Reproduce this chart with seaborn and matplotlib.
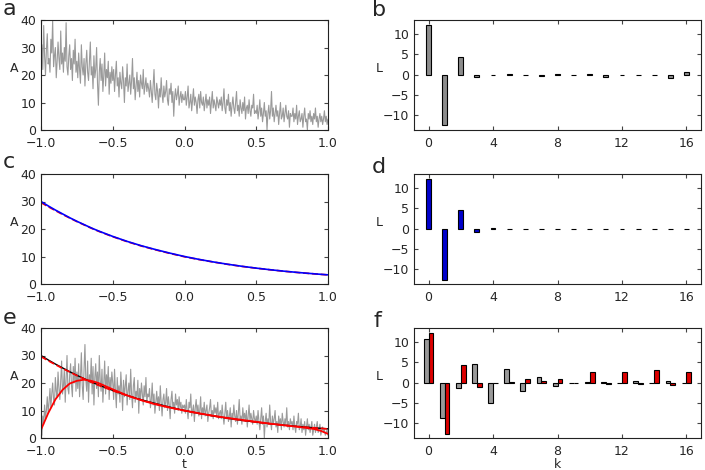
import numpy as np
import pandas as pd
import matplotlib
matplotlib.use("Agg")
import matplotlib.pyplot as plt
import seaborn as sns

# panel a: noisy decaying trace (t from -1 to 1, evenly spaced)
a_noisy = [
    25, 31, 22, 38, 27, 20, 29, 35, 24, 26, 21, 33, 28, 40, 23, 27, 30, 19, 25, 32,
    26, 22, 36, 24, 28, 21, 30, 25, 39, 23, 20, 27, 31, 22, 26, 18, 29, 24, 33, 21,
    25, 19, 28, 22, 17, 31, 23, 20, 26, 16, 24, 29, 21, 18, 25, 32, 20, 23, 15, 27,
    19, 22, 30, 17, 9, 21, 26, 18, 24, 14, 20, 28, 16, 22, 19, 25, 13, 21, 17, 23,
    18, 22, 14, 20, 25, 16, 19, 12, 21, 17, 15, 23, 18, 10, 19, 16, 24, 14, 17, 20,
    13, 18, 26, 15, 19, 11, 16, 21, 14, 18, 12, 20, 17, 15, 22, 13, 16, 19, 14, 17,
    15, 12, 18, 14, 10, 16, 22, 13, 11, 17, 14, 8, 15, 12, 19, 13, 10, 16, 12, 14,
    18, 11, 9, 15, 13, 17, 10, 14, 5, 12, 15, 11, 13, 16, 9, 12, 14, 10, 13, 11,
    11, 14, 9, 12, 16, 8, 10, 13, 7, 11, 15, 9, 12, 10, 6, 11, 13, 8, 14, 10,
    9, 12, 7, 10, 13, 8, 11, 9, 12, 6, 10, 14, 8, 11, 9, 7, 12, 10, 8, 11,
    9, 12, 7, 10, 15, 8, 6, 11, 9, 13, 7, 10, 5, 9, 12, 8, 6, 10, 14, 7,
    9, 5, 11, 8, 6, 10, 7, 12, 4, 8, 9, 6, 11, 7, 5, 9, 8, 13, 6, 7,
    6, 9, 4, 7, 11, 5, 8, 3, 6, 10, 5, 7, 0, 6, 9, 4, 7, 14, 5, 8,
    3, 6, 9, 5, 7, 2, 6, 10, 4, 5, 8, 3, 6, 9, 5, 4, 7, 1, 6, 5,
    5, 8, 3, 6, 4, 9, 2, 5, 7, 3, 4, 6, 1, 5, 8, 3, 4, 0, 6, 4,
    7, 3, 5, 2, 6, 4, 8, 3, 5, 1, 4, 6, 3, 5, 2, 4, 7, 3, 5, 2, 4,
]

# panel e: noisy trace with a rise then decay
e_noisy = [
    3, 1, 8, 5, 12, 7, 10, 15, 9, 13, 18, 11, 16, 20, 14, 12, 22, 17, 15, 24,
    18, 14, 21, 28, 16, 19, 25, 13, 22, 30, 18, 16, 23, 27, 19, 15, 26, 20, 29, 17,
    24, 18, 27, 15, 22, 31, 19, 14, 25, 34, 21, 17, 28, 13, 23, 20, 29, 16, 26, 12,
    22, 27, 18, 24, 15, 30, 21, 17, 25, 13, 20, 28, 16, 23, 19, 26, 14, 22, 18, 24,
    20, 14, 25, 17, 11, 22, 16, 19, 13, 24, 18, 10, 21, 15, 19, 23, 12, 17, 20, 14,
    25, 16, 11, 19, 22, 13, 17, 15, 21, 9, 18, 14, 20, 16, 12, 19, 15, 22, 13, 16,
    15, 18, 11, 14, 20, 12, 16, 9, 13, 17, 12, 15, 10, 19, 13, 8, 14, 16, 11, 13,
    18, 10, 15, 12, 7, 14, 17, 11, 13, 9, 16, 12, 14, 10, 15, 11, 13, 9, 12, 11,
    12, 9, 14, 10, 7, 13, 11, 16, 8, 10, 12, 6, 11, 14, 9, 12, 8, 10, 15, 7,
    11, 9, 13, 8, 10, 12, 6, 9, 11, 14, 8, 10, 7, 12, 9, 11, 8, 13, 7, 9,
    10, 7, 12, 8, 5, 9, 13, 7, 10, 6, 8, 11, 4, 9, 7, 12, 8, 6, 10, 5,
    9, 14, 7, 8, 5, 11, 7, 9, 6, 10, 4, 8, 12, 6, 9, 7, 5, 10, 7, 6,
    8, 5, 10, 6, 3, 7, 11, 5, 8, 0, 6, 9, 4, 7, 5, 12, 6, 3, 8, 5,
    7, 10, 4, 6, 2, 8, 5, 7, 3, 9, 6, 4, 7, 5, 11, 4, 6, 3, 7, 5,
    6, 3, 8, 4, 2, 6, 5, 9, 3, 4, 7, 2, 5, 3, 6, 1, 4, 7, 3, 5,
    2, 4, 6, 1, 3, 5, 2, 4, 6, 2, 3, 5, 1, 3, 4, 2, 3, 1, 2, 3, 1,
]

# smooth curves
t_curve = [-1.0, -0.95, -0.9, -0.85, -0.8, -0.75, -0.7, -0.65, -0.6, -0.5, -0.4, -0.3,
           -0.2, -0.1, 0.0, 0.1, 0.2, 0.3, 0.4, 0.5, 0.6, 0.7, 0.8, 0.9, 0.95, 1.0]
decay_true = [30.0, 28.4, 26.9, 25.5, 24.1, 22.8, 21.6, 20.4, 19.3, 17.3, 15.5, 13.9,
              12.5, 11.2, 10.0, 8.96, 8.03, 7.19, 6.44, 5.77, 5.17, 4.63, 4.15, 3.72, 3.52, 3.33]
decay_fit = [29.6, 28.1, 26.7, 25.3, 24.0, 22.7, 21.5, 20.3, 19.2, 17.2, 15.4, 13.8,
             12.4, 11.1, 9.9, 8.9, 8.0, 7.15, 6.4, 5.75, 5.15, 4.6, 4.12, 3.7, 3.5, 3.3]
rise_fit = [3.0, 9.0, 14.0, 17.5, 19.8, 20.8, 21.2, 20.8, 20.0, 17.7, 15.5, 13.7,
            12.2, 11.0, 10.0, 9.0, 8.1, 7.3, 6.6, 5.9, 5.2, 4.6, 4.0, 3.3, 2.6, 1.5]

# coefficients
k = list(range(17))
L_b = [12.3, -12.5, 4.3, -0.5, -0.1, 0.1, 0.0, -0.4, 0.2, 0.0, 0.2, -0.5, -0.1, -0.2, 0.0, -0.9, 0.6]
L_d = [12.2, -12.6, 4.5, -0.9, 0.1, 0, 0, 0, 0, 0, 0, 0, 0, 0, 0, 0, 0]
L_f_data = [10.9, -8.7, -1.4, 4.6, -5.0, 3.4, -2.1, 1.5, -0.8, 0.0, 0.1, 0.2, 0.0, 0.3, 0.0, 0.4, 0.0]
L_f_fit = [12.2, -12.7, 4.3, -1.0, 0.0, 0.2, 0.9, 0.4, 0.9, 0.0, 2.6, -0.4, 2.5, -0.3, 3.0, -0.5, 2.5]

t_a = np.linspace(-1, 1, len(a_noisy))
t_e = np.linspace(-1, 1, len(e_noisy))

sns.set_style("ticks")
plt.rcParams.update({
    "font.family": ["DejaVu Sans"],
    "font.size": 9,
    "xtick.direction": "in",
    "ytick.direction": "in",
    "xtick.top": True,
    "ytick.right": True,
    "xtick.major.size": 3,
    "ytick.major.size": 3,
    "xtick.major.pad": 5,
    "axes.linewidth": 0.8,
    "axes.edgecolor": "#222222",
})

fig = plt.figure(figsize=(7.05, 4.7), dpi=100)
W, H = 705, 470
lefts = [41, 414]
tops = [20, 174, 328]
aw, ah = 287, 110
axes = {}
letters = iter("abcdef")
for top in tops:
    for left in lefts:
        ax = fig.add_axes([left / W, 1 - (top + ah) / H, aw / W, ah / H])
        axes[next(letters)] = ax

grey = "#9a9a9a"

# left column
sns.lineplot(x=t_a, y=a_noisy, color=grey, lw=0.8, ax=axes["a"], estimator=None)
sns.lineplot(x=t_curve, y=decay_fit, color="red", lw=1.2, ls="--", ax=axes["c"], estimator=None)
sns.lineplot(x=t_curve, y=decay_true, color="blue", lw=1.2, ax=axes["c"], estimator=None)
sns.lineplot(x=t_e, y=e_noisy, color=grey, lw=0.8, ax=axes["e"], estimator=None)
sns.lineplot(x=t_curve, y=decay_true, color="black", lw=1, ax=axes["e"], estimator=None)
sns.lineplot(x=t_curve, y=decay_fit, color="red", lw=1.2, ls="--", ax=axes["e"], estimator=None)
sns.lineplot(x=t_curve, y=rise_fit, color="red", lw=1.3, ax=axes["e"], estimator=None)

for name in "ace":
    ax = axes[name]
    ax.set_xlim(-1, 1)
    ax.set_ylim(0, 40)
    ax.set_xticks([-1, -0.5, 0, 0.5, 1])
    ax.set_xticklabels(["\u22121.0", "\u22120.5", "0.0", "0.5", "1.0"])
    ax.set_yticks([0, 10, 20, 30, 40])
    ax.set_ylabel("A", rotation=0)
    ax.yaxis.set_label_coords(-0.094, 0.5)
    ax.set_xlabel("")

# right column
bar_kw = dict(edgecolor="black", linewidth=0.8, saturation=1, errorbar=None,
              native_scale=True, legend=False)
sns.barplot(x=k, y=L_b, color="#8c8c8c", width=0.3, ax=axes["b"], **bar_kw)
sns.barplot(x=k, y=L_d, color="#0000cc", width=0.3, ax=axes["d"], **bar_kw)
df_f = pd.DataFrame({
    "k": k + k,
    "L": L_f_data + L_f_fit,
    "series": ["data"] * len(k) + ["fit"] * len(k),
})
sns.barplot(data=df_f, x="k", y="L", hue="series", palette={"data": "#999999", "fit": "#dd0000"},
            width=0.6, dodge=True, ax=axes["f"], **bar_kw)

for name in "bdf":
    ax = axes[name]
    ax.set_xlim(-0.9, 16.9)
    ax.set_ylim(-13.7, 13.5)
    ax.set_xticks([0, 4, 8, 12, 16])
    ax.set_xticklabels(["0", "4", "8", "12", "16"])
    ax.set_yticks([-10, -5, 0, 5, 10])
    ax.set_yticklabels(["\u221210", "\u22125", "0", "5", "10"])
    ax.set_ylabel("L", rotation=0)
    ax.yaxis.set_label_coords(-0.122, 0.5)
    ax.set_xlabel("")

axes["e"].set_xlabel("t", labelpad=0)
axes["f"].set_xlabel("k", labelpad=0)

for ax in axes.values():
    ax.tick_params(labelsize=9, color="#444444")
    for s in ax.spines.values():
        s.set_visible(True)

# panel letters
letter_pos = {"a": (3, 9), "b": (372, 10), "c": (3, 162), "d": (372, 167), "e": (3, 318), "f": (374, 321)}
for name, (x, y) in letter_pos.items():
    fig.text(x / W, 1 - y / H, name, fontsize=16, va="center", ha="left")

fig.savefig("out.png", dpi=100)
